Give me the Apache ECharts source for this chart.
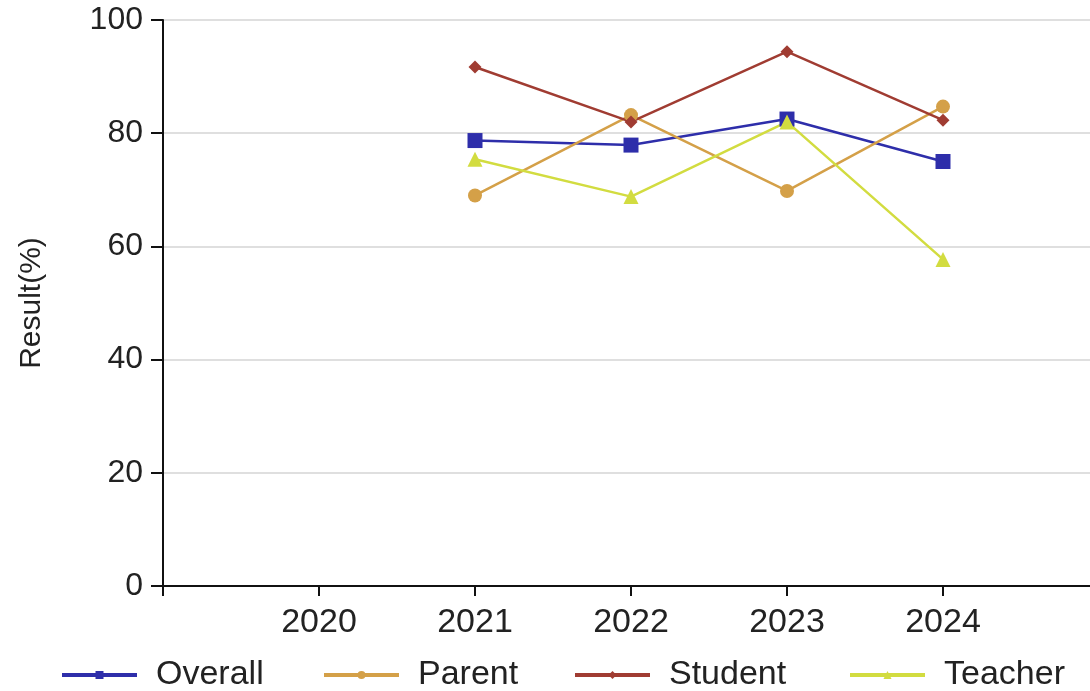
<!DOCTYPE html>
<html>
<head>
<meta charset="utf-8">
<script src="https://cdn.jsdelivr.net/npm/echarts@6/dist/echarts.min.js"></script>
<style>
html,body{margin:0;padding:0;background:#fff;}
#chart{width:1090px;height:691px;}
</style>
</head>
<body>
<div id="chart"></div>
<script>
// x categories (padding slots at both ends of the axis)
const categories = ['', '2020', '2021', '2022', '2023', '2024', ''];
const yTicks = [0, 20, 40, 60, 80, 100];
const overall = [null, null, 78.7, 77.9, 82.5, 75.0, null];
const parent  = [null, null, 69.0, 83.2, 69.8, 84.7, null];
const student = [null, null, 91.7, 82.0, 94.4, 82.3, null];
const teacher = [null, null, 75.4, 68.8, 82.0, 57.7, null];
const seriesNames = ['Overall', 'Parent', 'Student', 'Teacher'];

const font = 'Liberation Sans, Arial, sans-serif';
const chart = echarts.init(document.getElementById('chart'), null, {renderer: 'canvas'});

function mkSeries(name, data, color, symbol, size) {
  return {
    name: name, type: 'line', data: data, symbol: symbol, symbolSize: size,
    showSymbol: true, connectNulls: false, animation: false,
    lineStyle: {color: color, width: 2.5},
    itemStyle: {color: color},
    emphasis: {disabled: true}
  };
}

const legendLefts = [60, 322, 573, 848];
const legends = seriesNames.map((n, i) => ({
  data: [n], left: legendLefts[i], top: 658, padding: 0,
  itemWidth: 75, itemHeight: 10,
  lineStyle: {width: 4},
  textStyle: {fontFamily: font, fontSize: 34, color: '#222', padding: [0, 0, 0, 14]},
  selectedMode: false
}));

chart.setOption({
  animation: false,
  backgroundColor: '#fff',
  grid: {left: 163, top: 20, right: -9, bottom: 105, containLabel: false, outerBoundsMode: 'none'},
  legend: legends,
  xAxis: {
    type: 'category', data: categories, boundaryGap: false,
    axisLine: {lineStyle: {color: '#111', width: 2}},
    axisTick: {show: true, length: 10, lineStyle: {color: '#111', width: 2}, interval: 0},
    axisLabel: {fontFamily: font, fontSize: 34, color: '#222', margin: 20, interval: 0},
    splitLine: {show: false}
  },
  yAxis: {
    type: 'value', min: yTicks[0], max: yTicks[yTicks.length - 1], interval: 20,
    name: 'Result(%)', nameLocation: 'middle', nameGap: 116, nameRotate: 90,
    nameTextStyle: {fontFamily: font, fontSize: 30, color: '#222'},
    axisLine: {show: true, lineStyle: {color: '#111', width: 2}},
    axisTick: {show: true, length: 12, lineStyle: {color: '#111', width: 2}},
    axisLabel: {fontFamily: font, fontSize: 32, color: '#222', margin: 20},
    splitLine: {show: true, lineStyle: {color: '#d4d4d4', width: 1.5}}
  },
  series: [
    mkSeries('Overall', overall, '#2e2eaa', 'rect', 15),
    mkSeries('Parent', parent, '#d4a048', 'circle', 14),
    mkSeries('Student', student, '#a03c32', 'diamond', 13),
    mkSeries('Teacher', teacher, '#d2dc40', 'triangle', 15)
  ]
});
</script>
</body>
</html>
